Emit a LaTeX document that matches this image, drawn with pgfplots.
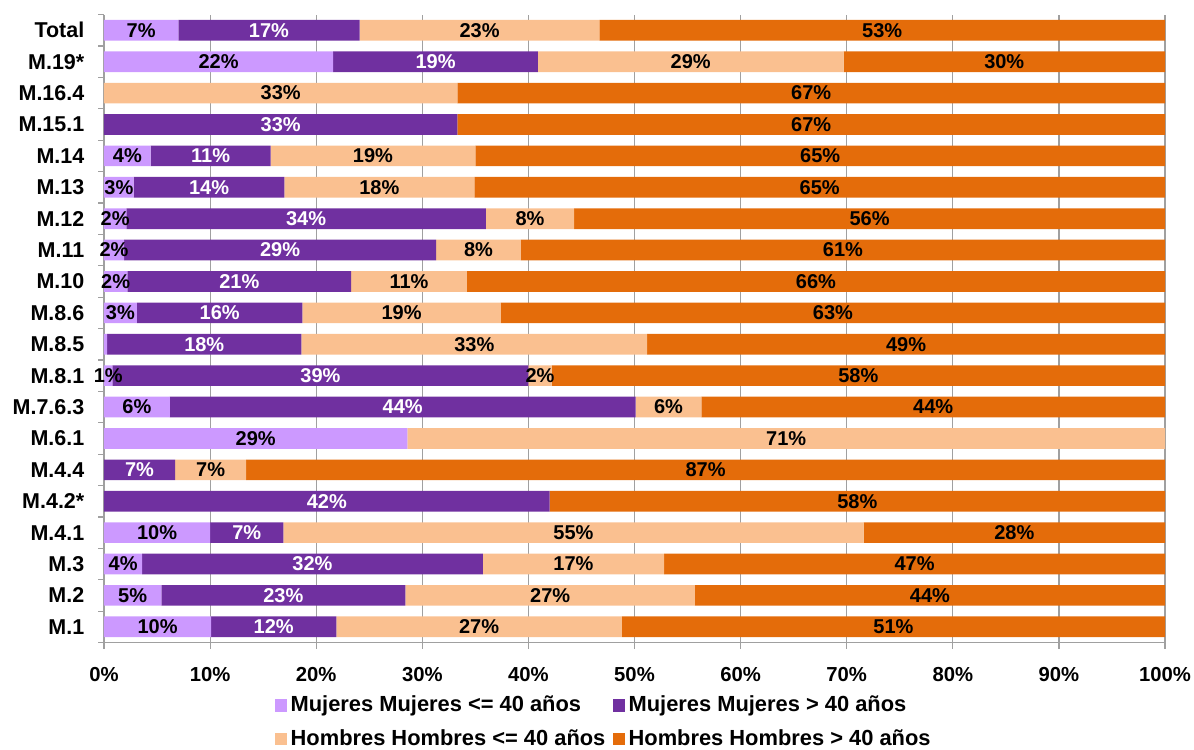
\documentclass[border=0pt]{standalone}
\usepackage{pgfplots}
\pgfplotsset{compat=1.18}
\usepackage{pgfplotstable}
\usepackage{fontspec}
\setmainfont{Liberation Sans}
\definecolor{mlight}{HTML}{CC99FF}
\definecolor{mdark}{HTML}{7030A0}
\definecolor{hlight}{HTML}{FAC090}
\definecolor{hdark}{HTML}{E46C0A}
\definecolor{gridgray}{RGB}{160,160,160}

% idx 0 = M.1 (bottom) ... 19 = Total (top)
\pgfplotstableread{
idx a b c d la lb lc ld
0 10.1 11.8 26.9 51.2 10 12 27 51
1 5.4 23.0 27.3 44.3 5 23 27 44
2 3.6 32.1 17.1 47.2 4 32 17 47
3 10.0 6.9 54.7 28.4 10 7 55 28
4 0 42.0 0 58.0 0 42 0 58
5 0 6.7 6.7 86.6 0 7 7 87
6 28.6 0 71.4 0 29 0 71 0
7 6.2 43.9 6.2 43.7 6 44 6 44
8 0.8 39.2 2.2 57.8 1 39 2 58
9 0.3 18.3 32.6 48.8 0 18 33 49
10 3.1 15.6 18.7 62.6 3 16 19 63
11 2.2 21.1 10.9 65.8 2 21 11 66
12 1.9 29.4 8.0 60.7 2 29 8 61
13 2.1 33.9 8.3 55.7 2 34 8 56
14 2.8 14.2 17.9 65.1 3 14 18 65
15 4.4 11.3 19.3 65.0 4 11 19 65
16 0 33.3 0 66.7 0 33 0 67
17 0 0 33.3 66.7 0 0 33 67
18 21.6 19.3 28.8 30.3 22 19 29 30
19 7.0 17.1 22.6 53.3 7 17 23 53
}\datatable

\begin{document}
\begin{tikzpicture}
\useasboundingbox (-78pt,-79.875pt) rectangle (817.5pt,481.875pt);
\begin{axis}[
  x=7.9575pt, y=23.545pt,
  xmin=0, xmax=100, ymin=-0.5, ymax=19.5,
  enlargelimits=false,
  xbar stacked, bar width=15.5pt,
  axis x line*=bottom, axis y line*=left,
  axis line style={gridgray, line width=0.9pt},
  xtick={0,10,...,100},
  xticklabels={0\%,10\%,20\%,30\%,40\%,50\%,60\%,70\%,80\%,90\%,100\%},
  xticklabel style={font=\bfseries\fontsize{15.2pt}{18pt}\selectfont, anchor=base, inner sep=0pt, yshift=-25.1pt},
  xmajorgrids, major grid style={gridgray, line width=0.9pt},
  tick align=outside, major tick length=4.5pt,
  tick style={gridgray, line width=0.9pt},
  ytick={-0.5,0.5,...,19.5}, yticklabel={\mbox{}},
  extra y ticks={0,1,...,19},
  extra y tick labels={M.1,M.2,M.3,M.4.1,M.4.2*,M.4.4,M.6.1,M.7.6.3,M.8.1,M.8.5,M.8.6,M.10,M.11,M.12,M.13,M.14,M.15.1,M.16.4,M.19*,Total},
  extra y tick style={major tick length=0pt},
  yticklabel style={font=\bfseries\fontsize{16.1pt}{19pt}\selectfont, anchor=east, inner sep=0pt, xshift=-14.6pt},
  /pgf/number format/assume math mode=true,
  every node near coord/.append style={
    check for zero/.code={\pgfmathfloatifflags{\pgfplotspointmeta}{0}{\pgfkeys{/tikz/coordinate}}{}},
    check for zero,
    font=\bfseries\fontsize{15pt}{18pt}\selectfont},
  nodes near coords={\pgfmathprintnumber[fixed,precision=0,assume math mode=true]{\pgfplotspointmeta}\%},
  legend columns=2,
  legend cell align=left,
  legend image code/.code={\fill[#1] (0pt,-4.1pt) rectangle (8.4pt,5.2pt);},
  legend style={at={(0,0)}, anchor=north west, xshift=128.6pt, yshift=-39.2pt,
    draw=none, fill=none, inner sep=0pt, outer sep=0pt, row sep=7.8pt,
    font=\bfseries\fontsize{16.4pt}{19pt}\selectfont,
    nodes={inner xsep=3pt, inner ysep=1pt, text height=11.7pt, text depth=3.5pt},
    /tikz/every even column/.append style={column sep=3pt}},
]
\addplot[fill=mlight, draw=none, point meta=\thisrow{la},
  nodes near coords style={anchor=center, text=black}]
  table[x=a, y=idx] {\datatable};
\addlegendentry{Mujeres Mujeres <= 40 años}
\addplot[fill=mdark, draw=none, point meta=\thisrow{lb},
  nodes near coords style={anchor=center, text=white}]
  table[x=b, y=idx] {\datatable};
\addlegendentry{Mujeres Mujeres > 40 años}
\addplot[fill=hlight, draw=none, point meta=\thisrow{lc},
  nodes near coords style={anchor=center, text=black}]
  table[x=c, y=idx] {\datatable};
\addlegendentry{Hombres Hombres <= 40 años}
\addplot[fill=hdark, draw=none, point meta=\thisrow{ld},
  nodes near coords style={anchor=center, text=black}]
  table[x=d, y=idx] {\datatable};
\addlegendentry{Hombres Hombres > 40 años}
\end{axis}
\end{tikzpicture}
\end{document}
